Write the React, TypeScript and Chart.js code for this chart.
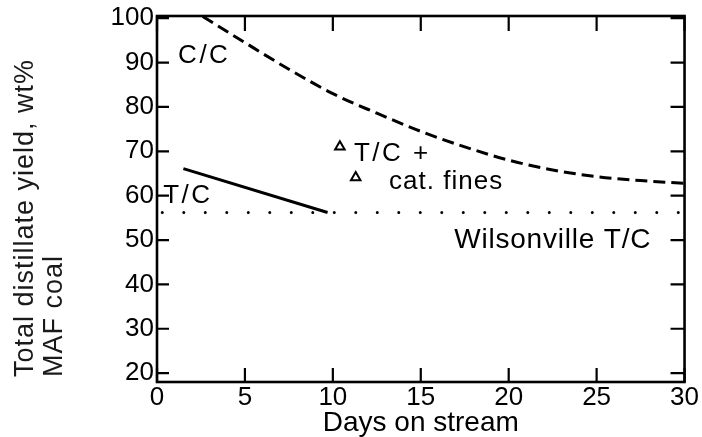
import { useEffect, useRef } from 'react';
import { Chart, registerables } from 'chart.js';

Chart.register(...registerables);

// ---- data ----
const xTicks = [0, 5, 10, 15, 20, 25, 30];
const yTicks = [20, 30, 40, 50, 60, 70, 80, 90, 100];

const ccDays = [2.6, 5, 7.5, 10, 12.5, 15, 17.5, 20, 22.5, 25, 27.5, 30];
const ccYield = [100.4, 94.5, 88.5, 83, 78.6, 74.5, 71, 68, 65.8, 64.3, 63.4, 62.8];

const tcDays = [1.5, 9.7];
const tcYield = [66.1, 56.2];

const wilsonDays = [0.3, 30];
const wilsonYield = [56.2, 56.2];

const finesDays = [10.4, 11.3];
const finesYield = [71.0, 64.1];

const labelTexts = ['C/C', 'T/C', 'T/C +', 'cat. fines', 'Wilsonville T/C'];
const labelDays = [1.2, 0.35, 11.2, 13.2, 16.9];
const labelYields = [90.0, 58.3, 67.9, 61.6, 48.2];

const yTitleLines = ['Total distillate yield, wt%', 'MAF coal'];
const xTitle = 'Days on stream';

const FONT = "'Liberation Sans', Arial, Helvetica, sans-serif";

const pts = (xs: number[], ys: number[]) => xs.map((x, i) => ({ x, y: ys[i] }));

const framePlugin = {
  id: 'frame',
  afterDatasetsDraw(chart: any) {
    const { ctx, chartArea: a, scales } = chart;
    const xs = scales.x;
    const ys = scales.y;
    ctx.save();
    ctx.strokeStyle = '#000';
    ctx.lineWidth = 2.6;
    ctx.strokeRect(a.left, a.top, a.right - a.left, a.bottom - a.top);
    ctx.lineWidth = 2.2;
    ctx.beginPath();
    yTicks.forEach((v) => {
      const py = ys.getPixelForValue(v);
      ctx.moveTo(a.left, py);
      ctx.lineTo(a.left + 12, py);
      ctx.moveTo(a.right, py);
      ctx.lineTo(a.right - 14, py);
    });
    xTicks.forEach((v) => {
      const px = xs.getPixelForValue(v);
      ctx.moveTo(px, a.bottom);
      ctx.lineTo(px, a.bottom - 14);
      ctx.moveTo(px, a.top);
      ctx.lineTo(px, a.top + 15);
    });
    ctx.stroke();
    ctx.restore();
  },
  afterDraw(chart: any) {
    const { ctx, scales, chartArea: a } = chart;
    const styles = [
      { size: 26, ls: 2.5 },
      { size: 26, ls: 2.5 },
      { size: 26, ls: 2.5 },
      { size: 26, ls: 1 },
      { size: 28, ls: 0.8 },
    ];
    ctx.save();
    ctx.fillStyle = '#000';
    ctx.textAlign = 'left';
    ctx.textBaseline = 'alphabetic';
    labelTexts.forEach((t, i) => {
      ctx.font = `${styles[i].size}px ${FONT}`;
      (ctx as any).letterSpacing = `${styles[i].ls}px`;
      ctx.fillText(t, scales.x.getPixelForValue(labelDays[i]), scales.y.getPixelForValue(labelYields[i]));
    });
    // y-axis title, two lines, rotated, starting near the bottom of the plot
    ctx.fillStyle = '#1a1a1a';
    ctx.font = `27px ${FONT}`;
    (ctx as any).letterSpacing = '1px';
    const baselines = [33, 62];
    yTitleLines.forEach((t, i) => {
      ctx.save();
      ctx.translate(baselines[i], a.bottom - 5);
      ctx.rotate(-Math.PI / 2);
      ctx.fillText(t, 0, 0);
      ctx.restore();
    });
    ctx.restore();
  },
};

export default function App() {
  const ref = useRef<HTMLCanvasElement>(null);

  useEffect(() => {
    if (!ref.current) return;
    Chart.defaults.color = '#000';
    const chart = new Chart(ref.current, {
      type: 'scatter',
      data: {
        datasets: [
          {
            label: 'C/C',
            data: pts(ccDays, ccYield),
            showLine: true,
            borderColor: '#000',
            borderWidth: 3,
            borderDash: [12, 6],
            cubicInterpolationMode: 'monotone',
            pointRadius: 0,
          },
          {
            label: 'T/C',
            data: pts(tcDays, tcYield),
            showLine: true,
            borderColor: '#000',
            borderWidth: 3,
            pointRadius: 0,
          },
          {
            label: 'Wilsonville T/C',
            data: pts(wilsonDays, wilsonYield),
            showLine: true,
            borderColor: '#000',
            borderWidth: 3,
            borderDash: [0, 21.5],
            borderCapStyle: 'round',
            pointRadius: 0,
          },
          {
            label: 'T/C + cat. fines',
            data: pts(finesDays, finesYield),
            showLine: false,
            pointStyle: 'triangle',
            pointRadius: 5.5,
            borderColor: '#000',
            borderWidth: 2,
            backgroundColor: '#fff',
          },
        ] as any,
      },
      options: {
        animation: false,
        responsive: true,
        maintainAspectRatio: false,
        layout: { padding: { left: 0, right: 15, top: 14, bottom: 0 } },
        plugins: { legend: { display: false }, tooltip: { enabled: false } },
        scales: {
          x: {
            type: 'linear',
            min: 0,
            max: 30,
            grid: { display: false, drawTicks: false },
            border: { display: false },
            afterBuildTicks: (s: any) => {
              s.ticks = xTicks.map((v) => ({ value: v }));
            },
            afterFit: (s: any) => {
              s.height = 55;
            },
            ticks: {
              padding: 3,
              maxRotation: 0,
              autoSkip: false,
              color: '#000',
              font: { family: FONT, size: 26, lineHeight: 1.0 },
            },
            title: {
              display: true,
              text: xTitle,
              color: '#000',
              font: { family: FONT, size: 28, lineHeight: 1.0 },
              padding: { top: 0, bottom: 0 },
            },
          },
          y: {
            type: 'linear',
            min: 18,
            max: 100.5,
            grid: { display: false, drawTicks: false },
            border: { display: false },
            afterBuildTicks: (s: any) => {
              s.ticks = yTicks.map((v) => ({ value: v }));
            },
            afterFit: (s: any) => {
              s.width = 157;
            },
            ticks: {
              padding: 3,
              autoSkip: false,
              color: '#000',
              font: { family: FONT, size: 26, lineHeight: 1.0 },
            },
            title: { display: false },
          },
        },
      } as any,
      plugins: [framePlugin],
    });
    return () => chart.destroy();
  }, []);

  return (
    <div style={{ position: 'fixed', left: 0, top: 0, width: 702, height: 437, background: '#fff' }}>
      <canvas ref={ref} />
    </div>
  );
}
